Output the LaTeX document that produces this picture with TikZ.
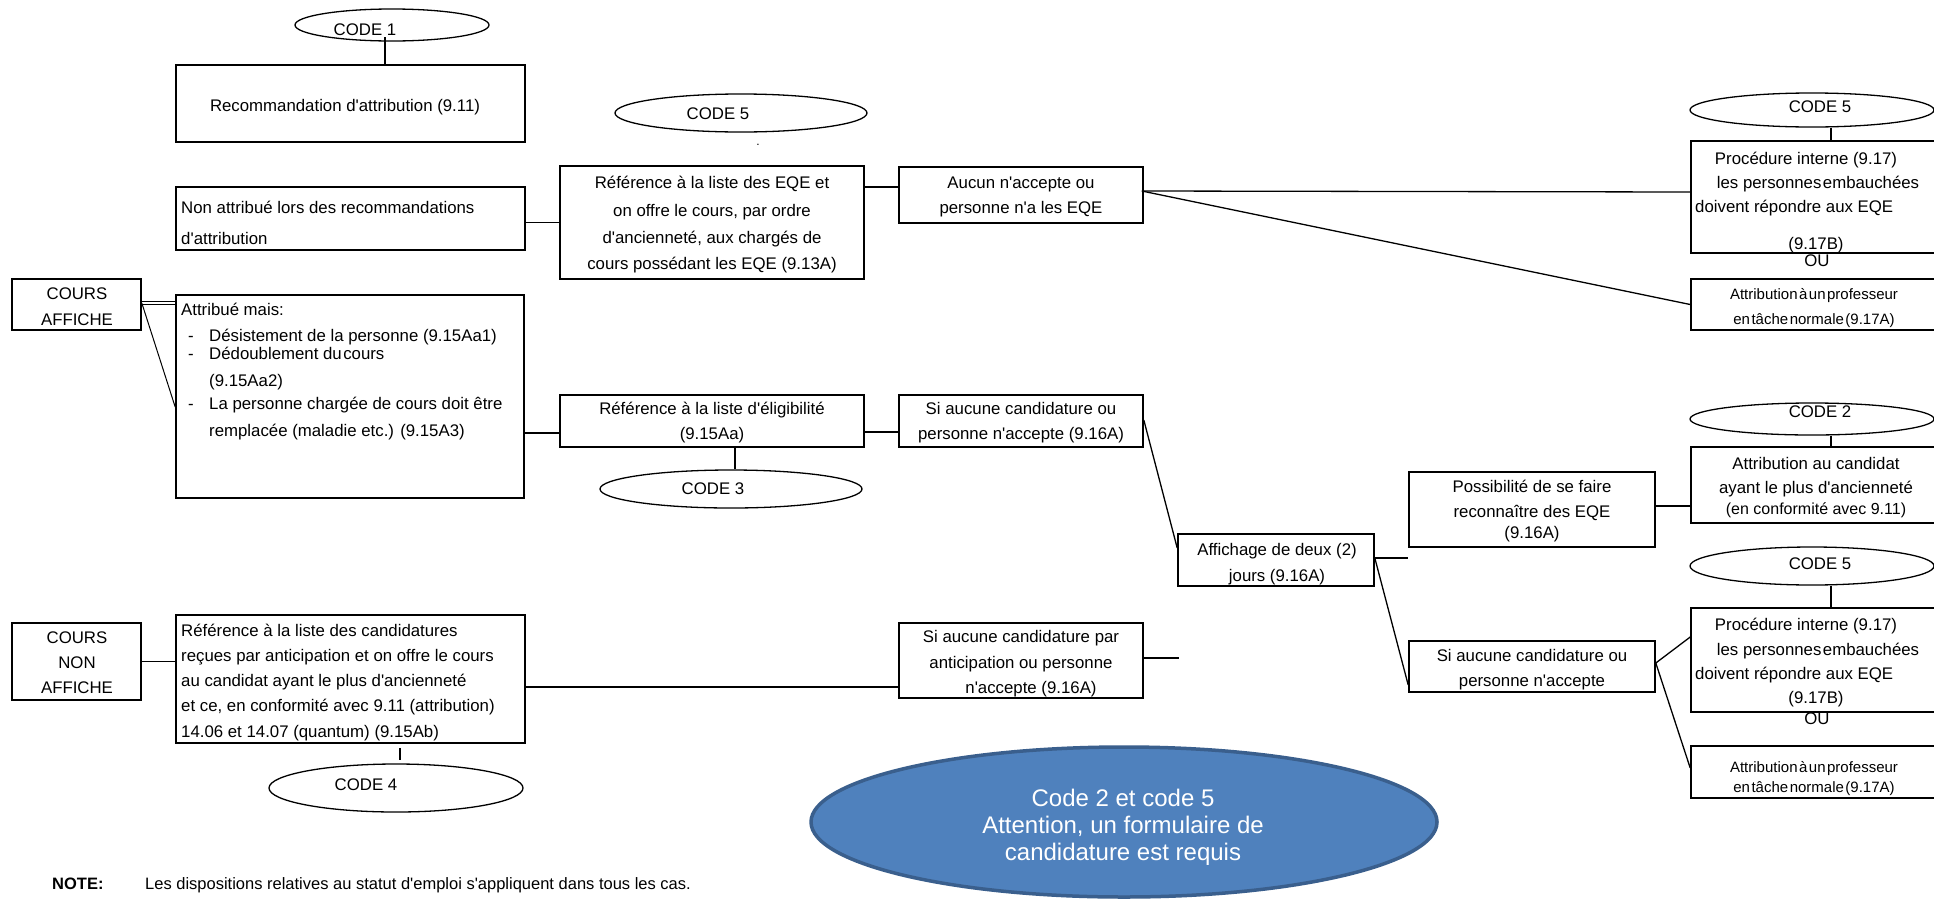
\documentclass[tikz,border=0pt]{standalone}
\usepackage{fontspec}
\setmainfont{Liberation Sans}[Ligatures=TeXOff]
\usetikzlibrary{shapes.geometric,calc}
\newcommand\tsp{\hspace{1.5pt}}
\definecolor{ovalfill}{HTML}{4F81BD}
\definecolor{ovalline}{HTML}{3A5F8D}
\begin{document}
\begin{tikzpicture}[x=1pt,y=-1pt,
  box/.style={draw=black, line width=1.6pt, rectangle, inner sep=0pt},
  oval/.style={draw=black, line width=1.3pt, ellipse, inner sep=0pt},
  conn/.style={line width=1.3pt, draw=black},
  tl/.style={inner sep=0pt, text height=12pt, text depth=0pt, font=\fontsize{16.8}{19}\selectfont},
  ts/.style={inner sep=0pt, text height=10.7pt, text depth=0pt, font=\fontsize{15}{18}\selectfont},
  bigt/.style={inner sep=0pt, text height=17pt, text depth=0pt, font=\fontsize{24}{27}\selectfont, text=white}
]
\useasboundingbox (0,0) rectangle (1934,900);
\fill[white] (0,0) rectangle (1934,900);
\begin{scope}
\clip (0,0) rectangle (1934,900);
% boxes
\node[box, minimum width=349pt, minimum height=77pt] (rec) at (350.5,103.5) {};
\node[box, minimum width=349pt, minimum height=63pt] (nonattr) at (350.5,218.5) {};
\node[box, minimum width=129pt, minimum height=51pt] (coursaff) at (76.5,304.5) {};
\node[box, minimum width=348pt, minimum height=203pt] (attrmais) at (350,396.5) {};
\node[box, minimum width=304pt, minimum height=113pt] (eqe) at (712,222.5) {};
\node[box, minimum width=244pt, minimum height=56pt] (aucun) at (1021,195) {};
\node[box, minimum width=304pt, minimum height=52pt] (elig) at (712,421) {};
\node[box, minimum width=244pt, minimum height=52pt] (siauc1) at (1021,421) {};
\node[box, minimum width=196pt, minimum height=52pt] (affich) at (1276,560) {};
\node[box, minimum width=246pt, minimum height=75pt] (possib) at (1532,509.5) {};
\node[box, minimum width=246pt, minimum height=51pt] (siauc2) at (1532,666.5) {};
\node[box, minimum width=249pt, minimum height=112pt] (proc1) at (1815.5,197) {};
\node[box, minimum width=249pt, minimum height=51pt] (attprof1) at (1815.5,304.5) {};
\node[box, minimum width=249pt, minimum height=76pt] (attcand) at (1815.5,485) {};
\node[box, minimum width=249pt, minimum height=104pt] (proc2) at (1815.5,660) {};
\node[box, minimum width=249pt, minimum height=52pt] (attprof2) at (1815.5,772) {};
\node[box, minimum width=129pt, minimum height=77pt] (coursnon) at (76.5,661.5) {};
\node[box, minimum width=349pt, minimum height=128pt] (refcand) at (350.5,679) {};
\node[box, minimum width=244pt, minimum height=75pt] (siaucpar) at (1021,660.5) {};
% ovals
\node[oval, minimum width=194pt, minimum height=32pt] (code1) at (392,25) {};
\node[oval, minimum width=252pt, minimum height=38pt] (code5a) at (741,113) {};
\node[oval, minimum width=262pt, minimum height=38pt] (code3) at (731,489) {};
\node[oval, minimum width=254pt, minimum height=48pt] (code4) at (396,788) {};
\node[oval, minimum width=244pt, minimum height=34pt] (code5b) at (1812,110) {};
\node[oval, minimum width=244pt, minimum height=32pt] (code2) at (1812,419) {};
\node[oval, minimum width=244pt, minimum height=38pt] (code5c) at (1812,566) {};
\node[ellipse, draw=ovalline, fill=ovalfill, line width=3.5pt, inner sep=0pt, minimum width=626pt, minimum height=150pt] (big) at (1124,822) {};
% free ends
\coordinate (dang1) at (1408,558);
\coordinate (dang2) at (1179,658);
% connectors
\draw[conn] ($(rec.north)+(34.5,0)$) -- ($(rec.north)+(34.5,-27)$);
\draw[conn] (eqe.west) -- (eqe.west -| nonattr.east);
\draw[conn] ($(aucun.west)+(0,-8)$) -- ($(eqe.east)+(0,-35.5)$);
\draw[conn] ($(aucun.east)+(-2,-4)$) -- ($(proc1.west)+(0,-5)$);
\draw[conn] ($(aucun.east)+(-2,-4)$) -- (attprof1.west);
\draw[line width=0.8pt, double, double distance=2pt] ($(coursaff.east)+(0,-1.5)$) -- ($(attrmais.west)+(0,-93.5)$);
\draw[line width=1pt] ($(coursaff.east)+(0,-1.5)$) -- ($(attrmais.west)+(0,10.5)$);
\draw[conn] ($(elig.west)+(0,12)$) -- ($(attrmais.east)+(0,36.5)$);
\draw[conn] ($(elig.east)+(0,11)$) -- ($(siauc1.west)+(0,11)$);
\draw[conn] ($(elig.south)+(23,0)$) -- ($(code3.north)+(4,0)$);
\draw[conn] ($(siauc1.east)+(0,-1)$) -- ($(affich.west)+(0,-12)$);
\draw[conn] ($(affich.east)+(0,-2)$) -- (dang1);
\draw[conn] ($(affich.east)+(0,-2)$) -- ($(siauc2.west)+(0,18.5)$);
\draw[conn] ($(possib.east)+(0,-3.5)$) -- ($(attcand.west)+(0,21)$);
\draw[conn] ($(code5b.south)+(19,0)$) -- ($(proc1.north)+(15.5,0)$);
\draw[conn] ($(code2.south)+(19,0)$) -- ($(attcand.north)+(15.5,0)$);
\draw[conn] ($(code5c.south)+(19,0)$) -- ($(proc2.north)+(15.5,0)$);
\draw[conn] ($(siauc2.east)+(0,-3.5)$) -- ($(proc2.west)+(0,-23)$);
\draw[conn] ($(siauc2.east)+(0,-3.5)$) -- ($(attprof2.west)+(0,-4)$);
\draw[conn] (coursnon.east) -- (coursnon.east -| refcand.west);
\draw[conn] ($(refcand.east)+(0,8)$) -- ($(siaucpar.west)+(0,26.5)$);
\draw[conn] ($(siaucpar.east)+(0,-2.5)$) -- (dang2);
\draw[conn] ($(refcand.south)+(49.5,4)$) -- ($(code4.north)+(4,-3)$);
% texts
\node[tl] (t-rec) at (345,105) {Recommandation d'attribution (9.11)};
\node[tl,anchor=west] (t-na1) at (181,207) {Non attribué lors des recommandations};
\node[tl,anchor=west] (t-na2) at (181,238) {d'attribution};
\node[tl] (t-ca1) at (77,293) {COURS};
\node[tl] (t-ca2) at (77,319) {AFFICHE};
\node[tl,anchor=west] (t-am0) at (181,309) {Attribué mais:};
\node[tl] (t-amd1) at (191,335) {-};
\node[tl,anchor=west] (t-am1) at (209,335) {Désistement de la personne (9.15Aa1)};
\node[tl] (t-amd2) at (191,353) {-};
\node[tl,anchor=west] (t-am2) at (209,353) {Dédoublement du\tsp cours};
\node[tl,anchor=west] (t-am3) at (209,380) {(9.15Aa2)};
\node[tl] (t-amd3) at (191,403) {-};
\node[tl,anchor=west] (t-am4) at (209,403) {La personne chargée de cours doit être};
\node[tl,anchor=west] (t-am5) at (209,430) {remplacée (maladie etc.) (9.15A3)};
\node[tl] (t-eq1) at (712,182) {Référence à la liste des EQE et};
\node[tl] (t-eq2) at (712,210) {on offre le cours, par ordre};
\node[tl] (t-eq3) at (712,237) {d'ancienneté, aux chargés de};
\node[tl] (t-eq4) at (712,263) {cours possédant les EQE (9.13A)};
\node[tl] (t-au1) at (1021,182) {Aucun n'accepte ou};
\node[tl] (t-au2) at (1021,207) {personne n'a les EQE};
\node[tl] (t-el1) at (712,408) {Référence à la liste d'éligibilité};
\node[tl] (t-el2) at (712,433) {(9.15Aa)};
\node[tl] (t-s11) at (1021,408) {Si aucune candidature ou};
\node[tl] (t-s12) at (1021,433) {personne n'accepte (9.16A)};
\node[tl] (t-af1) at (1277,549) {Affichage de deux (2)};
\node[tl] (t-af2) at (1277,575) {jours (9.16A)};
\node[tl] (t-po1) at (1532,486) {Possibilité de se faire};
\node[tl] (t-po2) at (1532,511) {reconnaître des EQE};
\node[tl] (t-po3) at (1532,532) {(9.16A)};
\node[tl] (t-s21) at (1532,655) {Si aucune candidature ou};
\node[tl] (t-s22) at (1532,680) {personne n'accepte};
\node[tl] (t-sp1) at (1021,636) {Si aucune candidature par};
\node[tl] (t-sp2) at (1021,662) {anticipation ou personne};
\node[tl] (t-sp3) at (1031,687) {n'accepte (9.16A)};
\node[tl] (t-p11) at (1806,158) {Procédure interne (9.17)};
\node[tl] (t-p12) at (1818,182) {les personnes\tsp embauchées};
\node[tl,anchor=west] (t-p13) at (1695,206) {doivent répondre aux EQE};
\node[tl] (t-p14) at (1816,243) {(9.17B)};
\node[tl] (t-ou1) at (1817,260) {OU};
\node[ts] (t-ap11) at (1814,294) {Attribution\tsp à\tsp un\tsp professeur};
\node[ts] (t-ap12) at (1814,319) {en\tsp tâche\tsp normale\tsp (9.17A)};
\node[tl] (t-ac1) at (1816,463) {Attribution au candidat};
\node[tl] (t-ac2) at (1816,487) {ayant le plus d'ancienneté};
\node[tl,font=\fontsize{16}{19}\selectfont] (t-ac3) at (1816,508) {(en conformité avec 9.11)};
\node[tl] (t-p21) at (1806,624) {Procédure interne (9.17)};
\node[tl] (t-p22) at (1818,649) {les personnes\tsp embauchées};
\node[tl,anchor=west] (t-p23) at (1695,673) {doivent répondre aux EQE};
\node[tl] (t-p24) at (1816,697) {(9.17B)};
\node[tl] (t-ou2) at (1817,718) {OU};
\node[ts] (t-ap21) at (1814,767) {Attribution\tsp à\tsp un\tsp professeur};
\node[ts] (t-ap22) at (1814,787) {en\tsp tâche\tsp normale\tsp (9.17A)};
\node[tl] (t-cn1) at (77,637) {COURS};
\node[tl] (t-cn2) at (77,662) {NON};
\node[tl] (t-cn3) at (77,687) {AFFICHE};
\node[tl,anchor=west] (t-rc1) at (181,630) {Référence à la liste des candidatures};
\node[tl,anchor=west] (t-rc2) at (181,655) {reçues par anticipation et on offre le cours};
\node[tl,anchor=west] (t-rc3) at (181,680) {au candidat ayant le plus d'ancienneté};
\node[tl,anchor=west] (t-rc4) at (181,705) {et ce, en conformité avec 9.11 (attribution)};
\node[tl,anchor=west] (t-rc5) at (181,731) {14.06 et 14.07 (quantum) (9.15Ab)};
\node[tl] (t-c1) at (365,29) {CODE 1};
\node[tl] (t-c5a) at (718,113) {CODE 5};
\node[tl] (t-c3) at (713,488) {CODE 3};
\node[tl] (t-c4) at (366,784) {CODE 4};
\node[tl] (t-c5b) at (1820,106) {CODE 5};
\node[tl] (t-c2) at (1820,411) {CODE 2};
\node[tl] (t-c5c) at (1820,563) {CODE 5};
\node[inner sep=0pt, font=\fontsize{12}{14}\selectfont] (t-dot) at (758,145) {.};
\node[bigt] (t-b1) at (1123,798) {Code 2 et code 5};
\node[bigt] (t-b2) at (1123,825) {Attention, un formulaire de};
\node[bigt] (t-b3) at (1123,852) {candidature est requis};
\node[tl,anchor=west,font=\fontsize{16.5}{19}\selectfont\bfseries] (t-note) at (52,883) {NOTE:};
\node[tl,anchor=west,font=\fontsize{16.5}{19}\selectfont] (t-notetxt) at (145,883) {Les dispositions relatives au statut d'emploi s'appliquent dans tous les cas.};
\end{scope}
\end{tikzpicture}
\end{document}
